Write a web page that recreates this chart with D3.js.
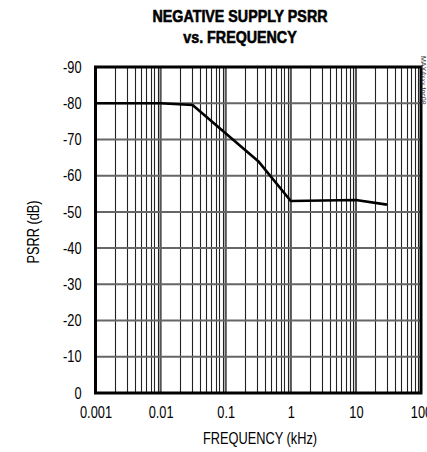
<!DOCTYPE html>
<html lang="en">
<head>
<meta charset="UTF-8">
<title>psrr</title>
<script src="https://cdn.jsdelivr.net/npm/d3@7"></script>
<style>
  body { margin: 0; background: #fff; }
  text { font-family: "Liberation Sans", Arial, sans-serif; }
</style>
</head>
<body>
<div id="chart"></div>
<script>
var width = 427, height = 452;
var margin = {top: 67, right: 6, bottom: 59, left: 95.5};
var squeeze = 0.8;   // the original uses a condensed face

// data
var freqs = [0.001, 0.01, 0.031, 0.316, 1, 10, 30];
var psrr  = [-80, -80, -79.5, -64, -53, -53.3, -52];
var xTicks = [0.001, 0.01, 0.1, 1, 10, 100];
var xTickLabels = ["0.001", "0.01", "0.1", "1", "10", "100"];
var yTicks = [0, -10, -20, -30, -40, -50, -60, -70, -80, -90];

var svg = d3.select("#chart").append("svg")
    .attr("width", width).attr("height", height);

var x = d3.scaleLog().domain([0.001, 100]).range([margin.left, width - margin.right]);
var y = d3.scaleLinear().domain([0, -90]).range([height - margin.bottom, margin.top]);

// minor vertical grid
var minor = [];
for (var d = -3; d < 2; d++) {
    for (var k = 2; k <= 9; k++) minor.push(k * Math.pow(10, d));
}
svg.append("g").selectAll("line").data(minor).enter().append("line")
    .attr("x1", function(d) { return Math.round(x(d)) + 0.5; })
    .attr("x2", function(d) { return Math.round(x(d)) + 0.5; })
    .attr("y1", y(-90)).attr("y2", y(0))
    .attr("stroke", "#222").attr("stroke-width", 1.1);

// decade lines
svg.append("g").selectAll("line").data(xTicks.slice(1, -1)).enter().append("line")
    .attr("x1", function(d) { return x(d); }).attr("x2", function(d) { return x(d); })
    .attr("y1", y(-90)).attr("y2", y(0))
    .attr("stroke", "#555").attr("stroke-width", 2.2);

// horizontal grid
svg.append("g").selectAll("line").data(yTicks.slice(1, -1)).enter().append("line")
    .attr("x1", x(0.001)).attr("x2", x(100))
    .attr("y1", function(d) { return y(d); }).attr("y2", function(d) { return y(d); })
    .attr("stroke", "#666").attr("stroke-width", 2);

// curve
var line = d3.line()
    .x(function(d) { return x(d[0]); })
    .y(function(d) { return y(d[1]); });
svg.append("path")
    .datum(freqs.map(function(f, i) { return [f, psrr[i]]; }))
    .attr("d", line)
    .attr("fill", "none").attr("stroke", "#000").attr("stroke-width", 2.6)
    .attr("stroke-linejoin", "round");

// frame
svg.append("rect")
    .attr("x", x(0.001)).attr("y", y(-90))
    .attr("width", x(100) - x(0.001)).attr("height", y(0) - y(-90))
    .attr("fill", "none").attr("stroke", "#000").attr("stroke-width", 3);

// axes (labels only)
var xAxis = d3.axisBottom(x).tickValues(xTicks)
    .tickFormat(function(d, i) { return xTickLabels[i]; }).tickSize(0).tickPadding(14);
var gx = svg.append("g").attr("transform", "translate(0," + y(0) + ")").call(xAxis);
gx.select(".domain").remove();
gx.selectAll("text").attr("font-size", 16).attr("fill", "#000")
    .attr("transform", "scale(" + squeeze + ",1)")
    .style("font-family", "'Liberation Sans', Arial, sans-serif");

var yAxis = d3.axisLeft(y).tickValues(yTicks)
    .tickFormat(function(d) { return String(d); }).tickSize(0).tickPadding(0);
var gy = svg.append("g").attr("transform", "translate(" + x(0.001) + ",0)").call(yAxis);
gy.select(".domain").remove();
gy.selectAll("text").attr("font-size", 16).attr("fill", "#000")
    .attr("x", -14 / squeeze)
    .attr("transform", "scale(" + squeeze + ",1)")
    .style("font-family", "'Liberation Sans', Arial, sans-serif");

// axis titles
svg.append("text").attr("transform", "translate(260,444) scale(" + squeeze + ",1)")
    .attr("text-anchor", "middle").attr("font-size", 16).text("FREQUENCY (kHz)");
svg.append("text").attr("transform", "translate(39,232) rotate(-90) scale(" + squeeze + ",1)")
    .attr("text-anchor", "middle").attr("font-size", 16).text("PSRR (dB)");

// title
svg.append("text").attr("transform", "translate(240,22) scale(0.84,1)")
    .attr("text-anchor", "middle").attr("font-size", 17).attr("font-weight", "bold")
    .attr("stroke", "#000").attr("stroke-width", 0.6).text("NEGATIVE SUPPLY PSRR");
svg.append("text").attr("transform", "translate(240,43) scale(0.84,1)")
    .attr("text-anchor", "middle").attr("font-size", 17).attr("font-weight", "bold")
    .attr("stroke", "#000").attr("stroke-width", 0.6).text("vs. FREQUENCY");

// part number tag
svg.append("text").attr("transform", "translate(421,56) rotate(90)")
    .attr("font-size", 7).attr("fill", "#333").text("MAX4xxx toc08");
</script>
</body>
</html>
